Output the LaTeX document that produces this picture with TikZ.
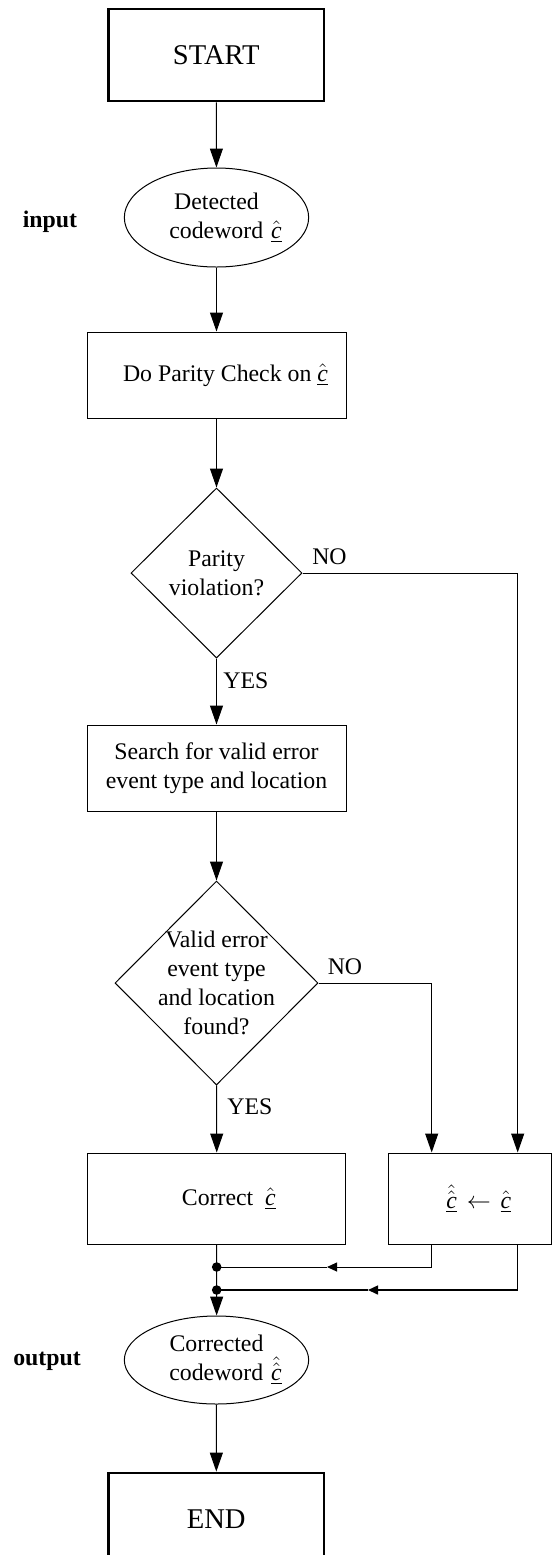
\documentclass[tikz,border=0pt]{standalone}
\usepackage{fontspec}
\setmainfont{Liberation Serif}
\usetikzlibrary{arrows.meta,shapes.geometric}
% underlined hatted code symbols
\newcommand\chat{$\underline{\hat{\mathit{c}}}$}
\newcommand\cchat{$\underline{\hat{\hat{\mathit{c}}}}$}

\begin{document}
\begin{tikzpicture}[x=0.5pt,y=-0.5pt,
  font=\fontsize{11.9pt}{14.5pt}\selectfont,
  terminal/.style={draw, rectangle, line width=1.4pt, minimum width=107.75pt,
    minimum height=46pt, inner sep=0pt, font=\fontsize{14.3pt}{17pt}\selectfont},
  io/.style={draw, ellipse, line width=0.5pt, inner sep=0pt, align=center},
  process/.style={draw, rectangle, line width=0.5pt, inner sep=0pt, align=center},
  decision/.style={draw, diamond, line width=0.5pt, inner sep=0pt},
  tag/.style={inner sep=0pt, font=\fontsize{11.9pt}{14.5pt}\selectfont\bfseries},
  branch/.style={inner sep=0pt},
  link/.style={line width=0.5pt},
  flow/.style={line width=0.5pt, -{Triangle[length=9.5pt,width=6.5pt]}},
  back/.style={-{Triangle[length=5pt,width=4.5pt]}},
]
\useasboundingbox (0,0) rectangle (552,1555);

% main column
\node[terminal] (start) at (216.25,55) {START};
\node[io, minimum width=85.5pt, minimum height=49.5pt] (inp) at (216.5,217.5)
  {Detected\\ \hspace*{9pt}codeword\,\,\chat};
\node[process, minimum width=129.5pt, minimum height=43pt] (chk) at (216.5,375)
  {\hspace*{9pt}Do Parity Check on \chat};
\node[decision, minimum width=85.5pt, minimum height=85pt,
  label={[align=center]center:Parity\\violation?}] (viol) at (216.5,573) {};
\node[process, minimum width=129.5pt, minimum height=43pt] (srch) at (216.5,768)
  {Search for valid error\\event type and location};
\node[decision, minimum width=101.5pt, minimum height=102pt,
  label={[align=center]center:Valid error\\event type\\and location\\found?}] (valid) at (216.5,983) {};
\node[process, minimum width=129pt, minimum height=45.5pt] (corr) at (216.8,1198.5)
  {\hspace*{12pt}Correct \ \chat};
\node[process, minimum width=81.75pt, minimum height=45.5pt] (asg) at (469.75,1198.5)
  {\hspace*{9pt}\cchat\ \,$\leftarrow$\ \,\chat};
\node[io, minimum width=86.5pt, minimum height=44pt] (outp) at (216.5,1360)
  {Corrected\\ \hspace*{9pt}codeword\,\,\cchat};
\node[terminal] (fin) at (216.25,1519) {END};

% side labels
\node[tag] (lin) at (50,222) {input};
\node[tag] (lout) at (47,1361) {output};
\node[branch] (no1) at (329.5,557) {NO};
\node[branch] (no2) at (345,967) {NO};
\node[branch, anchor=west] (yes1) at (223,681) {YES};
\node[branch, anchor=west] (yes2) at (227,1107) {YES};

% routing columns and junctions
\coordinate (colA) at (431.7,0);
\coordinate (colB) at (517.7,0);
\coordinate (j1) at (216.7,1267);
\coordinate (j2) at (216.7,1290);
\coordinate (t1) at (327,1267);
\coordinate (t2) at (368,1290);
\coordinate (c2) at (517.7,1290);

% connectors
\draw[flow] (start) -- (inp);
\draw[flow] (inp) -- (chk);
\draw[flow] (chk) -- (viol);
\draw[flow] (viol) -- (srch);
\draw[flow] (srch) -- (valid);
\draw[flow] (valid) -- (corr);
\draw[flow] (viol.east) -| (colB |- asg.north);
\draw[flow] (valid.east) -| (colA |- asg.north);
\draw[link, back] (colA |- asg.south) |- (t1);
\draw[link] (t1) -- (j1);
\draw[link] (colB |- asg.south) -- (c2);
\draw[line width=0.75pt, back] (c2) -- (t2);
\draw[line width=0.75pt] (t2) -- (j2);
\draw[link] (corr) -- (j1) -- (j2);
\draw[flow] (j2) -- (outp);
\draw[flow] (outp) -- (fin);
\fill (j1) circle (2.4pt);
\fill (j2) circle (2.4pt);
\end{tikzpicture}
\end{document}
